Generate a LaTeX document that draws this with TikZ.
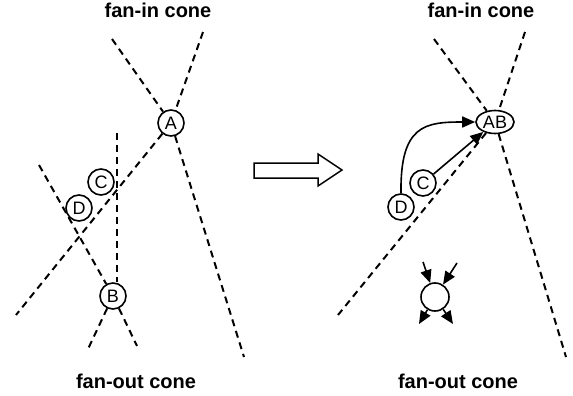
\documentclass[tikz,border=0pt]{standalone}
\usepackage{fontspec}
\setmainfont{Liberation Sans}
\usetikzlibrary{arrows.meta,shapes.geometric}
\begin{document}
\begin{tikzpicture}[x=1pt,y=-1pt,
  cone/.style={line width=2pt, dash pattern=on 7pt off 5pt},
  vtx/.style={circle, draw, fill=white, line width=1.6pt, minimum size=26pt, inner sep=0pt, font=\fontsize{18}{18}\selectfont},
  lbl/.style={font=\bfseries\fontsize{20}{24}\selectfont, anchor=base},
  arr/.style={line width=1.6pt, -{Triangle[length=13pt,width=11pt]}}]
\useasboundingbox (0,0) rectangle (573,396);
% left panel
\node[vtx] (A) at (171,123) {A};
\node[vtx] (C) at (101,182) {C};
\node[vtx] (D) at (79,208) {D};
\node[vtx] (B) at (113,296) {B};
\coordinate (a1) at (112,39);
\coordinate (a2) at (203,32);
\coordinate (a3) at (244,357);
\coordinate (a4) at (16,315);
\coordinate (b1) at (39,165);
\coordinate (b2) at (117,133);
\coordinate (b3) at (88,349);
\coordinate (b4) at (137,346);
\draw[cone] (a1) -- (A);
\draw[cone] (a2) -- (A);
\draw[cone] (A) -- (a3);
\draw[cone] (A) -- (a4);
\draw[cone] (b1) -- (B);
\draw[cone] (b2) -- (b2 |- B.north);
\draw[cone] (B) -- (b3);
\draw[cone] (B) -- (b4);
% transformation arrow
\draw[line width=1.5pt] (254,163) -- (318,163) -- (318,154) -- (342,170) -- (318,186) -- (318,178) -- (254,178) -- cycle;
% right panel
\node[vtx, ellipse, minimum width=38pt, minimum height=23pt] (AB) at (495,122) {AB};
\node[vtx] (C2) at (423,183) {C};
\node[vtx] (D2) at (401,207) {D};
\coordinate (c1) at (434,39);
\coordinate (c2) at (525,32);
\coordinate (c3) at (566,357);
\coordinate (c4) at (338,315);
\draw[cone] (c1) -- (AB);
\draw[cone] (c2) -- (AB);
\draw[cone] (AB) -- (c3);
\draw[cone] (AB) -- (c4);
\draw[arr] (C2) -- (AB);
\draw[arr] (D2.north) .. controls (400,125) and (425,122) .. (AB.west);
% fan node
\node[circle, draw, line width=1.6pt, minimum size=28pt, inner sep=0pt] (X) at (435,297) {};
\coordinate (i1) at (423,262);
\coordinate (i2) at (457,263);
\coordinate (o1) at (419,324);
\coordinate (o2) at (453,324);
\draw[arr] (i1) -- (X);
\draw[arr] (i2) -- (X);
\draw[arr] (X) -- (o1);
\draw[arr] (X) -- (o2);
% labels
\node[lbl] (t1) at (158,18) {fan-in cone};
\node[lbl] (t2) at (481,18) {fan-in cone};
\node[lbl] (t3) at (136,388) {fan-out cone};
\node[lbl] (t4) at (458,388) {fan-out cone};
\end{tikzpicture}
\end{document}
